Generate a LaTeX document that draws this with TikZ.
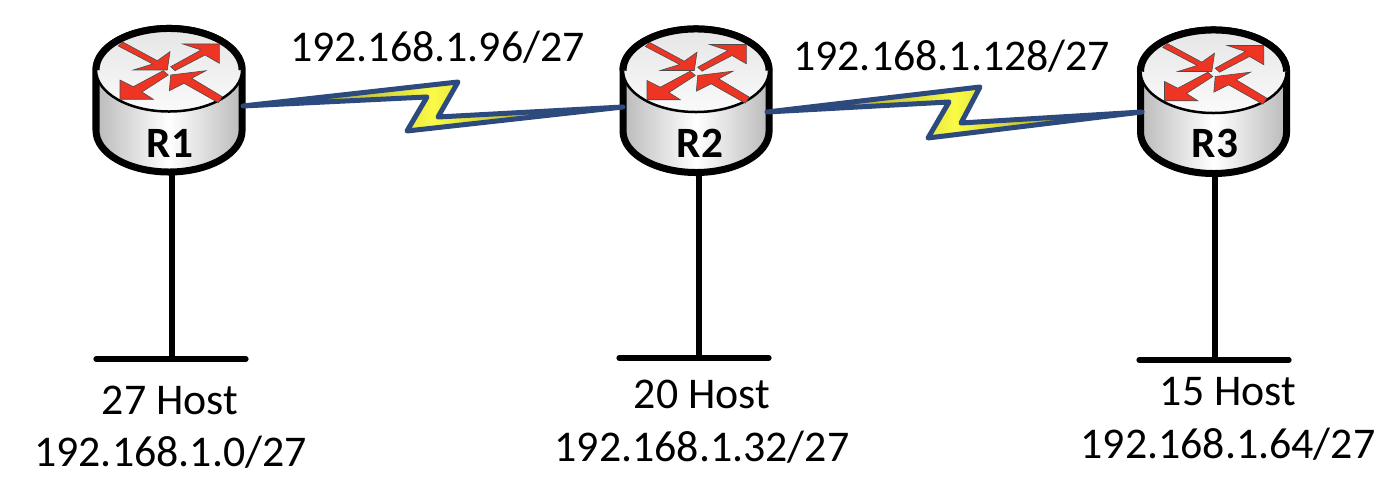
\documentclass[tikz,border=0pt]{standalone}
\usepackage{fontspec}
\setmainfont{Carlito}
\definecolor{boltblue}{RGB}{44,74,125}
\definecolor{boltyellow}{RGB}{250,250,70}
\definecolor{arrowred}{RGB}{238,53,36}
\definecolor{sidegrey}{RGB}{186,186,186}
\tikzset{
    routerline/.style={draw=black, line width=0.07cm, line join=round},
    routerarrow/.style={fill=arrowred, draw=black!70, line width=0.006cm, line join=miter},
    routerlabel/.style={font=\fontsize{12.3}{14}\selectfont\bfseries, inner sep=0pt},
    netlabel/.style={font=\fontsize{12.47}{14}\selectfont, anchor=base, inner sep=0pt},
    lanline/.style={draw=black, line width=0.052cm, line cap=round},
    bolt/.style={draw=boltblue, line width=0.05cm, line join=round, line cap=round,
        left color=boltyellow!45!black, right color=boltyellow!45!black, middle color=boltyellow},
    pics/router/.style={code={
        \draw[routerline, left color=sidegrey, right color=sidegrey, middle color=white]
            (-73,0) -- (-73,60.5) arc[start angle=180, end angle=360, x radius=0.73cm, y radius=0.415cm]
            -- (73,0) arc[start angle=0, end angle=180, x radius=0.73cm, y radius=0.415cm] -- cycle;
        \path[top color=black!10, bottom color=black!2]
            (0,0) ellipse[x radius=0.73cm, y radius=0.415cm];
        \draw[black, line width=0.025cm] (-73,0) arc[start angle=180, end angle=360, x radius=0.73cm, y radius=0.415cm];
        \draw[routerline] (-73,0) arc[start angle=180, end angle=0, x radius=0.73cm, y radius=0.415cm];
        \draw[routerarrow] (-50.7,-24) -- (-46.3,-28) -- (-11.7,-9.3) -- (1,-18.3) -- (-1.7,0) -- (-35.7,0) -- (-16.3,-6) -- cycle;
        \draw[routerarrow] (1.7,-3.3) -- (32,-20) -- (13.7,-26) -- (50.3,-26) -- (50.3,-6.7) -- (36,-15) -- (6,0.7) -- cycle;
        \draw[routerarrow] (-5.7,0.7) -- (-35.7,16.7) -- (-49,10) -- (-49,29.3) -- (-15.7,29.3) -- (-27,22) -- (-0.7,5) -- cycle;
        \draw[routerarrow] (53.3,26.7) -- (22.7,8.3) -- (37,0.7) -- (1.7,5) -- (0.3,20.7) -- (15,13.3) -- (49.3,32.7) -- cycle;
    }},
}
\begin{document}
\begin{tikzpicture}[x=0.01cm, y=-0.01cm]
    \useasboundingbox (0,0) rectangle (1398,486);

    \pic (r1) at (169,70) {router};
    \pic (r2) at (696,70.5) {router};
    \pic (r3) at (1213.5,71.5) {router};

    \node[routerlabel] (r1name) at (170,143) {R1};
    \node[routerlabel] (r2name) at (700,143) {R2};
    \node[routerlabel] (r3name) at (1215,143) {R3};

    \coordinate (r1east) at (243,106);
    \coordinate (r2west) at (623,107);
    \coordinate (r2east) at (767,112);
    \coordinate (r3west) at (1142,112);
    \coordinate (r1drop) at (172,174);
    \coordinate (r2drop) at (699,174);
    \coordinate (r3drop) at (1215,175);

    \coordinate (kinkA) at (458,82);
    \coordinate (kinkB) at (438,117);
    \coordinate (kinkC) at (407,131);
    \coordinate (kinkD) at (427,97);
    \coordinate (kinkE) at (980,87);
    \coordinate (kinkF) at (961,123);
    \coordinate (kinkG) at (928,138);
    \coordinate (kinkH) at (949,102);

    \draw[bolt] (r1east) -- (kinkA) -- (kinkB) -- (r2west) -- (kinkC) -- (kinkD) -- cycle;
    \draw[bolt] (r2east) -- (kinkE) -- (kinkF) -- (r3west) -- (kinkG) -- (kinkH) -- cycle;

    \coordinate (lan1) at (172,359);
    \coordinate (lan1w) at (96,359);
    \coordinate (lan1e) at (246,359);
    \coordinate (lan2) at (699,358);
    \coordinate (lan2w) at (619,358);
    \coordinate (lan2e) at (769,358);
    \coordinate (lan3) at (1215,360);
    \coordinate (lan3w) at (1139,360);
    \coordinate (lan3e) at (1289,360);

    \draw[lanline] (r1drop) -- (lan1);
    \draw[lanline] (r2drop) -- (lan2);
    \draw[lanline] (r3drop) -- (lan3);
    \draw[lanline] (lan1w) -- (lan1e);
    \draw[lanline] (lan2w) -- (lan2e);
    \draw[lanline] (lan3w) -- (lan3e);

    \node[netlabel] (link12) at (437.5,62) {192.168.1.96/27};
    \node[netlabel] (link23) at (951.7,70.7) {192.168.1.128/27};
    \node[netlabel] (hosts1) at (170,415) {27 Host};
    \node[netlabel] (net1) at (170.5,467) {192.168.1.0/27};
    \node[netlabel] (hosts2) at (702,409) {20 Host};
    \node[netlabel] (net2) at (702,461.5) {192.168.1.32/27};
    \node[netlabel] (hosts3) at (1228,406) {15 Host};
    \node[netlabel] (net3) at (1228,459) {192.168.1.64/27};
\end{tikzpicture}
\end{document}
